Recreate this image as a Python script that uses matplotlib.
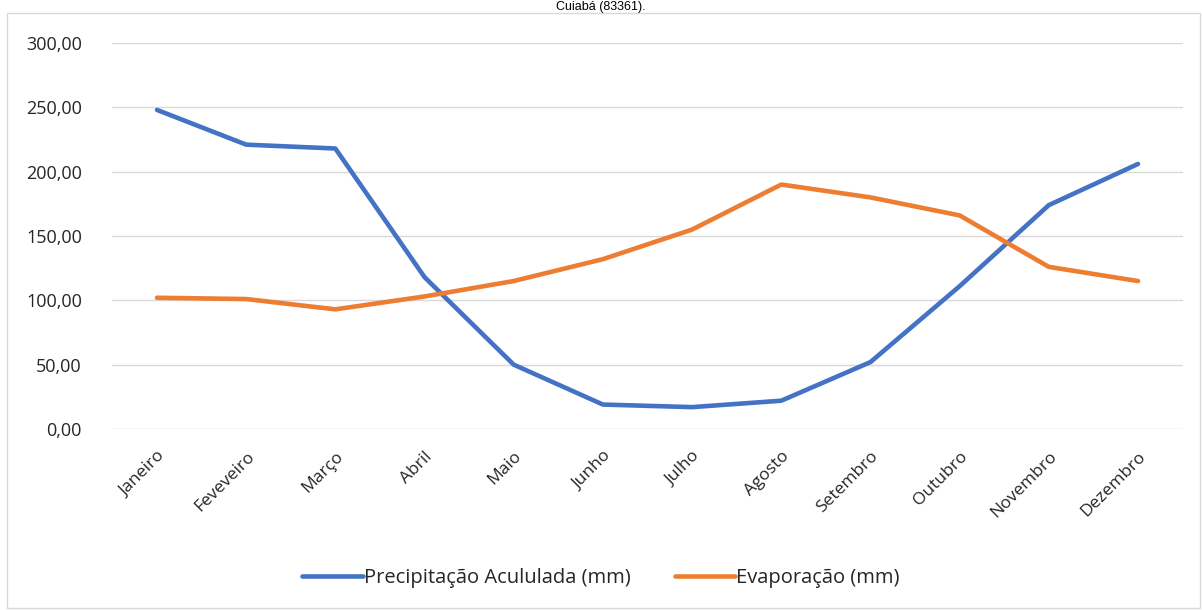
import matplotlib.pyplot as plt
import matplotlib.transforms as mtransforms
from matplotlib.patches import Rectangle

meses = ['Janeiro', 'Feveveiro', 'Março', 'Abril', 'Maio', 'Junho',
         'Julho', 'Agosto', 'Setembro', 'Outubro', 'Novembro', 'Dezembro']
precipitacao = [248, 221, 218, 118, 50, 19, 17, 22, 52, 111, 174, 206]
evaporacao = [102, 101, 93, 103, 115, 132, 155, 190, 180, 166, 126, 115]
yticks = [0, 50, 100, 150, 200, 250, 300]

plt.rcParams['font.family'] = ['Open Sans', 'DejaVu Sans']

fig = plt.figure(figsize=(12.02, 6.10), dpi=100)

# chart border (Excel chart area)
fig.patches.append(Rectangle((7 / 1202, 2 / 610), 1193 / 1202, 595 / 610,
                             transform=fig.transFigure, fill=False,
                             edgecolor='#D9D9D9', lw=1))

# title above the chart border
fig.text(0.5, 1 - 1 / 610, 'Cuiabá (83361).', ha='center', va='top',
         fontsize=9, family='Liberation Sans', color='black')

ax = fig.add_axes([112.4 / 1202, 1 - 429 / 610, 1070.2 / 1202, 386 / 610])
x = list(range(len(meses)))
ax.plot(x, precipitacao, color='#4472C4', lw=3.3,
        label='Precipitação Acululada (mm)', solid_capstyle='round')
ax.plot(x, evaporacao, color='#ED7D31', lw=3.3,
        label='Evaporação (mm)', solid_capstyle='round')

ax.set_xlim(-0.5, len(meses) - 0.5)
ax.set_ylim(0, 300)
ax.set_yticks(yticks)
ax.set_yticklabels([f'{v:.2f}'.replace('.', ',') for v in yticks],
                   fontsize=13, color='#262626')
ax.set_xticks(x)
ax.set_xticklabels(meses, rotation=45, ha='right', rotation_mode='anchor',
                   fontsize=12.5, color='#262626')
shift = mtransforms.ScaledTranslation(8 / 100, 0, fig.dpi_scale_trans)
for lab in ax.get_xticklabels():
    lab.set_transform(lab.get_transform() + shift)
ax.tick_params(axis='both', length=0)
ax.tick_params(axis='y', pad=22)
ax.tick_params(axis='x', pad=14)
ax.grid(axis='y', color='#D9D9D9', lw=1)
ax.set_axisbelow(True)
for s in ax.spines.values():
    s.set_visible(False)

fig.legend(loc='center', bbox_to_anchor=(0.5, 1 - 578 / 610), ncol=2,
           frameon=False, fontsize=14.5, handlelength=3.0, handletextpad=0.05,
           columnspacing=2.2, labelcolor='#262626')

fig.savefig('out.png', dpi=100)
